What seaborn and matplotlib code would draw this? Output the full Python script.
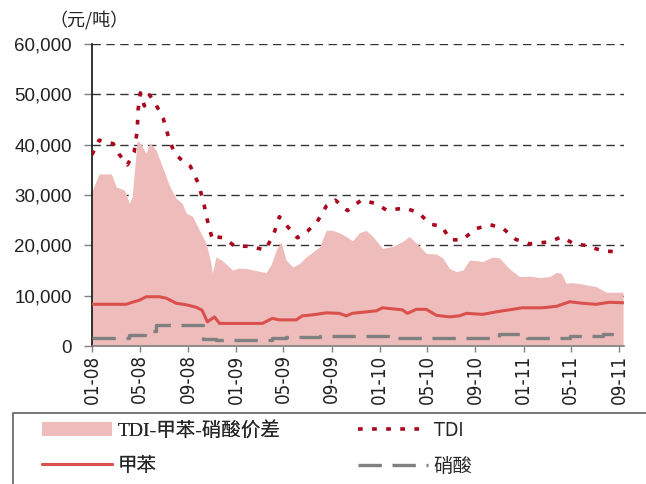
import matplotlib
matplotlib.use("Agg")
import matplotlib.pyplot as plt
import matplotlib.dates as mdates
from matplotlib.ticker import FuncFormatter
from matplotlib.patches import Rectangle
from matplotlib import font_manager
import seaborn as sns
import pandas as pd

# ---------------- data ----------------
spread_dates = ["2008-01-01", "2008-01-19", "2008-02-19", "2008-03-03", "2008-03-23", "2008-04-05",
                "2008-04-12", "2008-04-25", "2008-05-05", "2008-05-17", "2008-05-27", "2008-06-12",
                "2008-06-28", "2008-07-15", "2008-08-01", "2008-08-17", "2008-08-27", "2008-09-12",
                "2008-09-30", "2008-10-17", "2008-10-29", "2008-11-02", "2008-11-11", "2008-11-27",
                "2008-12-23", "2009-01-09", "2009-01-26", "2009-02-21", "2009-03-18", "2009-03-31",
                "2009-04-13", "2009-04-25", "2009-05-08", "2009-05-25", "2009-06-11", "2009-06-28",
                "2009-07-15", "2009-08-01", "2009-08-18", "2009-09-03", "2009-09-20", "2009-10-07",
                "2009-10-24", "2009-11-10", "2009-11-27", "2009-12-14", "2010-01-08", "2010-02-03",
                "2010-02-28", "2010-03-17", "2010-04-12", "2010-04-29", "2010-05-24", "2010-06-10",
                "2010-06-27", "2010-07-14", "2010-07-31", "2010-08-17", "2010-09-20", "2010-10-15",
                "2010-11-01", "2010-11-26", "2010-12-22", "2011-01-16", "2011-02-11", "2011-03-08",
                "2011-03-25", "2011-04-07", "2011-04-19", "2011-05-06", "2011-06-01", "2011-07-05",
                "2011-07-30", "2011-09-11"]
spread_values = [30800, 34200, 34200, 31600, 31000, 28400,
                 29700, 40900, 40000, 38300, 40400, 38900,
                 35600, 32000, 29400, 28400, 26400, 25800,
                 23000, 20400, 16500, 14500, 17700, 17000,
                 15100, 15500, 15400, 15000, 14600, 16200,
                 19100, 20700, 17100, 15700, 16400, 17700,
                 18700, 19700, 23000, 23000, 22500, 21800,
                 20900, 22500, 23000, 21800, 19400, 19800,
                 20800, 21800, 19800, 18400, 18300, 17500,
                 15400, 14800, 15100, 17100, 16800, 17700,
                 17500, 15400, 13800, 13900, 13600, 13800,
                 14600, 14500, 12500, 12600, 12300, 11800,
                 10700, 10700]

tdi_dates = ["2008-01-01", "2008-01-19", "2008-02-24", "2008-03-10", "2008-03-31", "2008-04-17",
             "2008-04-25", "2008-04-27", "2008-05-03", "2008-05-13", "2008-05-26", "2008-06-12",
             "2008-06-30", "2008-07-13", "2008-07-28", "2008-08-20", "2008-09-07", "2008-09-27",
             "2008-10-10", "2008-10-20", "2008-11-02", "2008-11-12", "2008-11-30", "2008-12-28",
             "2009-02-04", "2009-03-16", "2009-04-06", "2009-04-21", "2009-05-11", "2009-06-06",
             "2009-07-01", "2009-07-26", "2009-08-18", "2009-09-10", "2009-10-11", "2009-11-15",
             "2009-12-23", "2010-01-18", "2010-03-07", "2010-04-09", "2010-05-10", "2010-06-07",
             "2010-06-30", "2010-07-30", "2010-09-01", "2010-10-09", "2010-11-11", "2010-12-12",
             "2011-01-16", "2011-03-08", "2011-04-08", "2011-05-09", "2011-06-08", "2011-07-21",
             "2011-09-02"]
tdi_values = [38000, 40900, 40200, 38100, 36000, 38500,
              42900, 46900, 50300, 47700, 49900, 47900,
              45200, 41600, 38400, 36600, 35700, 32300,
              28700, 25000, 21100, 21700, 21500, 19900,
              19800, 19100, 22100, 25700, 23800, 21500,
              22800, 24700, 27800, 29000, 26900, 29000,
              28300, 27000, 27400, 26500, 24200, 23800,
              21100, 21100, 23300, 24100, 23300, 21200,
              20300, 20700, 21700, 20300, 20000, 18900,
              18700]

toluene_dates = ["2008-01-01", "2008-03-28", "2008-04-12", "2008-04-30", "2008-05-18", "2008-06-20",
                 "2008-07-08", "2008-08-02", "2008-08-28", "2008-09-22", "2008-10-07", "2008-10-20",
                 "2008-11-07", "2008-11-20", "2009-03-09", "2009-04-03", "2009-04-21", "2009-06-03",
                 "2009-06-18", "2009-07-14", "2009-08-18", "2009-09-20", "2009-10-08", "2009-10-23",
                 "2009-11-28", "2009-12-23", "2010-01-08", "2010-02-27", "2010-03-12", "2010-04-04",
                 "2010-04-29", "2010-05-25", "2010-06-27", "2010-07-22", "2010-08-09", "2010-09-19",
                 "2010-10-24", "2010-11-26", "2010-12-29", "2011-02-18", "2011-03-26", "2011-04-28",
                 "2011-05-31", "2011-07-05", "2011-08-07", "2011-09-11"]
toluene_values = [8300, 8300, 8700, 9100, 9800, 9800,
                  9500, 8500, 8200, 7700, 7100, 4800,
                  5800, 4500, 4500, 5500, 5200, 5200,
                  6000, 6200, 6600, 6500, 6000, 6500,
                  6800, 7000, 7600, 7200, 6500, 7300,
                  7300, 6100, 5800, 6000, 6500, 6300,
                  6800, 7200, 7600, 7600, 7900, 8800,
                  8500, 8300, 8700, 8600]

nitric_dates = ["2008-01-01", "2008-03-28", "2008-04-05", "2008-05-15", "2008-06-12", "2008-09-30",
                "2008-10-08", "2008-11-12", "2009-02-17", "2009-04-03", "2009-05-09", "2009-08-01",
                "2009-12-31", "2010-02-07", "2010-05-15", "2010-08-17", "2010-11-01", "2011-01-11",
                "2011-04-28", "2011-07-21", "2011-09-11"]
nitric_values = [1700, 1700, 2100, 3000, 4200, 4200,
                 1400, 1200, 1300, 1700, 1800, 1900,
                 1900, 1700, 1600, 1700, 2400, 1700,
                 1900, 2400, 2400]

y_ticks = [0, 10000, 20000, 30000, 40000, 50000, 60000]
x_tick_dates = ["2008-01-01", "2008-05-01", "2008-09-01", "2009-01-01", "2009-05-01", "2009-09-01",
                "2010-01-01", "2010-05-01", "2010-09-01", "2011-01-01", "2011-05-01", "2011-09-01"]
unit_label = "（元/吨）"
legend_labels = ["TDI-甲苯-硝酸价差", "TDI", "甲苯", "硝酸"]

# ---------------- style ----------------
sns.set_style("white")
plt.rcParams["font.family"] = ["DejaVu Sans", "Noto Sans CJK SC"]

xfont = font_manager.FontProperties(family="DejaVu Sans", stretch="condensed", size=13.5)
yfont = font_manager.FontProperties(family="Liberation Sans", size=13.5)

PINK = "#EFBCBC"
DARKRED = "#A8071E"
RED = "#D9504C"
GRAY = "#808080"

fig = plt.figure(figsize=(6.46, 4.84), dpi=100)
ax = fig.add_axes([0.1424, 0.285, 0.824, 0.624])

sp = pd.DataFrame({"date": pd.to_datetime(spread_dates), "value": spread_values})
td = pd.DataFrame({"date": pd.to_datetime(tdi_dates), "value": tdi_values})
tl = pd.DataFrame({"date": pd.to_datetime(toluene_dates), "value": toluene_values})
nt = pd.DataFrame({"date": pd.to_datetime(nitric_dates), "value": nitric_values})

h_area = ax.fill_between(sp["date"], 0, sp["value"], color=PINK, lw=0,
                         label=legend_labels[0], zorder=1)

sns.lineplot(data=td, x="date", y="value", ax=ax, color=DARKRED, lw=2.6,
             label=legend_labels[1], zorder=4)
h_tdi = ax.lines[-1]
h_tdi.set_dashes((1.3, 2.6))
h_tdi.set_dash_capstyle("butt")

sns.lineplot(data=tl, x="date", y="value", ax=ax, color=RED, lw=2.2,
             label=legend_labels[2], zorder=3)
h_tol = ax.lines[-1]

sns.lineplot(data=nt, x="date", y="value", ax=ax, color=GRAY, lw=2.4,
             label=legend_labels[3], zorder=3, drawstyle="steps-post")
h_nit = ax.lines[-1]
h_nit.set_dashes((7, 3.2))

ax.set_xlim(pd.Timestamp("2008-01-01"), pd.Timestamp("2011-09-14"))
ax.set_ylim(0, 60000)
ax.set_xlabel("")
ax.set_ylabel("")

for v in y_ticks[1:]:
    ax.axhline(v, color="#333333", lw=1.0, dashes=(6, 4), zorder=0.5)

ax.set_yticks(y_ticks)
ax.yaxis.set_major_formatter(FuncFormatter(lambda v, p: f"{int(v):,}"))
ax.set_xticks(pd.to_datetime(x_tick_dates))
ax.xaxis.set_major_formatter(mdates.DateFormatter("%m-%y"))
ax.tick_params(axis="y", which="major", length=5.5, width=1, color=GRAY,
               pad=9, direction="out", left=True)
ax.tick_params(axis="x", which="major", length=4, width=1, color=GRAY,
               pad=2, direction="out", bottom=True)
for t in ax.get_yticklabels():
    t.set_fontproperties(yfont)
    t.set_color("#222222")
for t in ax.get_xticklabels():
    t.set_fontproperties(xfont)
    t.set_rotation(90)
    t.set_color("#222222")

for s in ["top", "right"]:
    ax.spines[s].set_visible(False)
ax.spines["left"].set_color("#111111")
ax.spines["left"].set_linewidth(1.2)
ax.spines["bottom"].set_color(GRAY)
ax.spines["bottom"].set_linewidth(1.2)

fig.text(49 / 646, 1 - 20 / 484, unit_label, fontsize=13, va="center", ha="left",
         family=["Noto Sans CJK SC", "DejaVu Sans"], weight="light", color="#222222")

ax.get_legend().remove()

# legend frame (extends past the figure edge like the reference)
fig.add_artist(Rectangle((13 / 646, -0.1), 1.0, 1 - 413 / 484 + 0.1, transform=fig.transFigure,
                         fill=False, edgecolor="#606060", lw=1.2, clip_on=False))

common = dict(loc="upper left", frameon=False, handlelength=3.6,
              handleheight=0.8, handletextpad=0.3, borderaxespad=0, borderpad=0,
              labelspacing=0.9)
leg1 = fig.legend([h_area, h_tol], [legend_labels[0], legend_labels[2]],
                  bbox_to_anchor=(42 / 646, 1 - 421 / 484),
                  prop={"family": ["Liberation Serif", "Noto Sans CJK SC"], "size": 14,
                        "weight": "light"}, **common)
fig.add_artist(leg1)
leg2 = fig.legend([h_tdi, h_nit], [legend_labels[1], legend_labels[3]],
                  bbox_to_anchor=(358 / 646, 1 - 421 / 484),
                  prop={"family": ["DejaVu Sans", "Noto Sans CJK SC"], "size": 14,
                        "stretch": "condensed", "weight": "light"}, **common)

fig.savefig("out.png", dpi=100)
